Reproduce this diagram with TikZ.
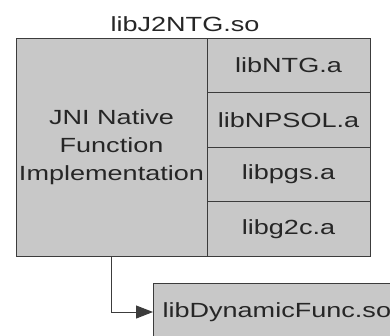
\documentclass[tikz,border=0pt]{standalone}
\usepackage{fontspec}
\newfontfamily\diagfont{Liberation Sans}[FakeStretch=1.32]
\usepackage{xcolor}
\usepackage{tikz}
\usetikzlibrary{arrows.meta, positioning}
\definecolor{boxgray}{RGB}{200,200,200}
\definecolor{linegray}{RGB}{60,60,60}
\def\cellW{163}
\def\cellH{54.5}

\begin{document}
\begin{tikzpicture}[
    x=1pt, y=-1pt,
    line width=1pt,
    >={Triangle[length=17pt,width=13pt]},
    every node/.style={font=\diagfont\fontsize{20.5}{28}\selectfont, inner sep=0pt, text=black!85},
    cell/.style={draw=linegray, fill=boxgray, minimum width=\cellW pt, minimum height=\cellH pt}
]
\useasboundingbox (0,0) rectangle (390,335);
\clip (0,0) rectangle (390,335);
\node (title) at (185,24) {libJ2NTG.so};
\node[cell, minimum width=191pt, minimum height=218pt, align=center] (jni) at (111.5,147)
    {JNI Native\\Function\\Implementation};
\node[cell] (ntg) at (288.5,65.25) {libNTG.a};
\node[cell] (npsol) at (288.5,119.75) {libNPSOL.a};
\node[cell] (pgs) at (288.5,174.25) {libpgs.a};
\node[cell] (gtc) at (288.5,228.75) {libg2c.a};
\node[cell, anchor=west, minimum width=250pt, minimum height=58pt, text width=250pt, align=left,
    inner xsep=9pt] (dyn) at (153,312) {libDynamicFunc.so};
\draw[->, draw=linegray] (jni.south) |- (dyn.west);
\end{tikzpicture}
\end{document}
